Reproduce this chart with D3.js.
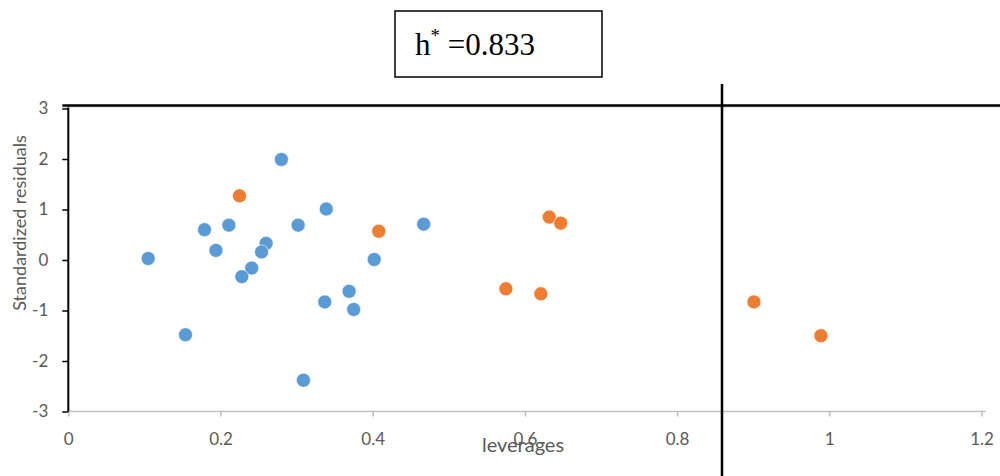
<!DOCTYPE html>
<html>
<head>
<meta charset="utf-8">
<script src="https://cdn.jsdelivr.net/npm/d3@7"></script>
<style>
  body { margin: 0; background: #fff; }
  svg { display: block; }
</style>
</head>
<body>
<div id="chart"></div>
<script>
// leverages (x) and standardized residuals (y)
const trainX = [0.280, 0.339, 0.179, 0.211, 0.302, 0.467, 0.105, 0.194, 0.260, 0.254,
                0.402, 0.241, 0.228, 0.369, 0.337, 0.375, 0.154, 0.309];
const trainY = [1.99, 1.01, 0.60, 0.69, 0.69, 0.71, 0.03, 0.19, 0.33, 0.16,
                0.01, -0.16, -0.33, -0.62, -0.83, -0.98, -1.48, -2.38];
const testX = [0.225, 0.408, 0.575, 0.621, 0.632, 0.647, 0.901, 0.989];
const testY = [1.27, 0.57, -0.57, -0.67, 0.85, 0.73, -0.83, -1.50];
const xTicks = [0, 0.2, 0.4, 0.6, 0.8, 1, 1.2];
const yTicks = [-3, -2, -1, 0, 1, 2, 3];
const hStar = 0.859;   // vertical warning line as drawn
const resLimit = 3.06; // horizontal line as drawn

const width = 1000, height = 476;
const margin = { top: 108.5, right: 18.5, bottom: 64.5, left: 68.3 };

const svg = d3.select('#chart').append('svg')
    .attr('width', width)
    .attr('height', height);

const x = d3.scaleLinear().domain([0, 1.2]).range([margin.left, width - margin.right]);
const y = d3.scaleLinear().domain([-3, 3]).range([height - margin.bottom, margin.top]);

const tickColor = '#595959';
const font = "Lato, 'Open Sans', sans-serif";

// bottom axis
const xAxis = svg.append('g')
    .attr('transform', `translate(0,${y(-3)})`)
    .call(d3.axisBottom(x).tickValues(xTicks).tickSize(5).tickPadding(16)
        .tickFormat(d => String(d)));
xAxis.select('.domain').attr('stroke', '#bfbfbf').attr('stroke-width', 1.5)
    .attr('d', `M${x(0)},0H${x(1.2) + 4}`);
xAxis.selectAll('.tick line').attr('stroke', '#bfbfbf').attr('stroke-width', 1.5);
xAxis.selectAll('.tick text').attr('fill', tickColor)
    .style('font-family', font).style('font-size', '17px');

// left axis
const yAxis = svg.append('g')
    .attr('transform', `translate(${x(0)},0)`)
    .call(d3.axisLeft(y).tickValues(yTicks).tickSize(6).tickPadding(14)
        .tickFormat(d => String(d)));
yAxis.select('.domain').attr('stroke', '#000').attr('stroke-width', 2)
    .attr('d', `M0,${y(3) - 2}V${y(-3)}`);
yAxis.selectAll('.tick line').attr('stroke', '#000').attr('stroke-width', 1.5);
yAxis.selectAll('.tick text').attr('fill', tickColor)
    .style('font-family', font).style('font-size', '17px');

// points
function drawPoints(xs, ys, color) {
    svg.append('g').selectAll('circle')
        .data(xs.map((d, i) => ({ x: d, y: ys[i] })))
        .join('circle')
        .attr('cx', d => x(d.x))
        .attr('cy', d => y(d.y))
        .attr('r', 7)
        .attr('fill', color)
        .attr('stroke', '#fff')
        .attr('stroke-opacity', 0.6)
        .attr('stroke-width', 1);
}
drawPoints(trainX, trainY, '#5b9bd5');
drawPoints(testX, testY, '#ed7d31');

// limit lines
svg.append('line')
    .attr('x1', x(0) - 6).attr('x2', width)
    .attr('y1', y(resLimit) + 1.5).attr('y2', y(resLimit) + 1.5)
    .attr('stroke', '#c8c8c8').attr('stroke-width', 1);
svg.append('line')
    .attr('x1', x(0) - 6).attr('x2', width)
    .attr('y1', y(resLimit)).attr('y2', y(resLimit))
    .attr('stroke', '#000').attr('stroke-width', 2.5);
svg.append('line')
    .attr('x1', x(hStar)).attr('x2', x(hStar))
    .attr('y1', 84).attr('y2', height)
    .attr('stroke', '#000').attr('stroke-width', 2.5);

// axis titles
svg.append('text')
    .attr('x', 523).attr('y', 452)
    .attr('text-anchor', 'middle')
    .attr('fill', tickColor)
    .style('font-family', font).style('font-size', '20px')
    .text('leverages');
svg.append('text')
    .attr('transform', 'translate(26,223) rotate(-90)')
    .attr('text-anchor', 'middle')
    .attr('fill', tickColor)
    .style('font-family', font).style('font-size', '18px')
    .text('Standardized residuals');

// h* box
svg.append('rect')
    .attr('x', 395).attr('y', 11).attr('width', 207).attr('height', 66)
    .attr('fill', '#fff').attr('stroke', '#000').attr('stroke-width', 1.5);
const label = svg.append('text')
    .attr('x', 415).attr('y', 55)
    .style('font-family', "'Liberation Serif', 'Times New Roman', serif")
    .style('font-size', '31px')
    .attr('fill', '#000');
label.append('tspan').text('h');
label.append('tspan').attr('dy', -13).style('font-size', '19px').text('*');
label.append('tspan').attr('dy', 13).text(' =0.833');
</script>
</body>
</html>
